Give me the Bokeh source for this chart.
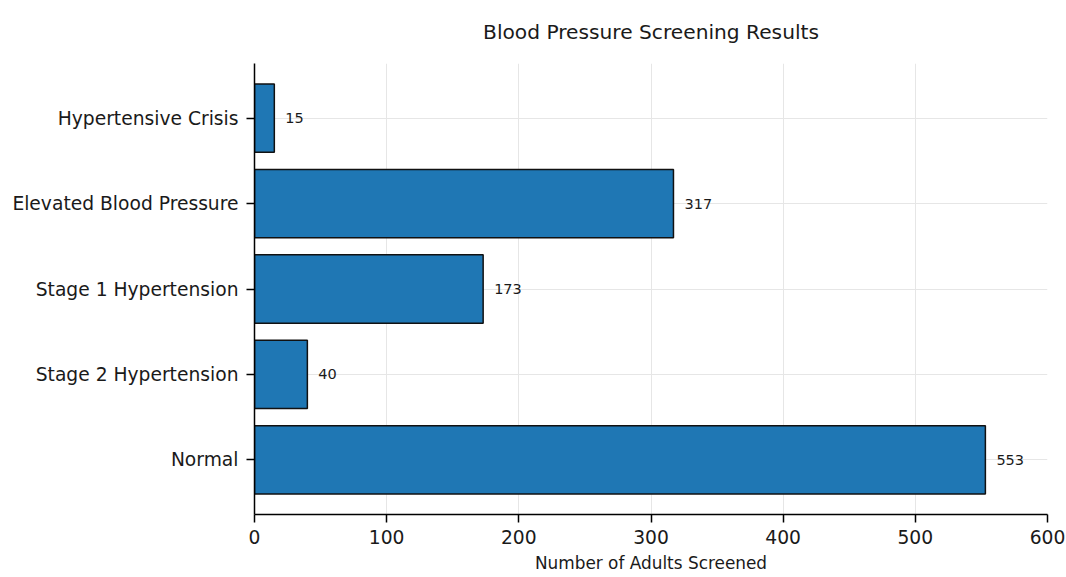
from bokeh.plotting import figure
from bokeh.models import Range1d, FixedTicker, ColumnDataSource
from bokeh.core.properties import value
from bokeh.embed import file_html
from bokeh.resources import INLINE

# Data (bottom to top)
categories = ["Normal", "Stage 2 Hypertension", "Stage 1 Hypertension",
              "Elevated Blood Pressure", "Hypertensive Crisis"]
counts = [553, 40, 173, 317, 15]
x_ticks = [0, 100, 200, 300, 400, 500, 600]
title_text = "Blood Pressure Screening Results"
x_label_text = "Number of Adults Screened"

ypos = list(range(len(categories)))
src = ColumnDataSource(dict(y=ypos, count=counts, label=[str(c) for c in counts]))

FONT = "DejaVu Sans"

p = figure(width=1066, height=577, output_backend="svg", toolbar_location=None,
           x_range=Range1d(x_ticks[0], x_ticks[-1]),
           y_range=Range1d(-0.64, len(categories) - 1 + 0.64),
           min_border_left=254, min_border_right=19, min_border_top=63, min_border_bottom=63)

p.title.text = title_text
p.title.align = "center"
p.title.vertical_align = "top"
p.title.text_font = FONT
p.title.text_font_size = "20.2px"
p.title.text_font_style = "normal"
p.title.text_color = "#1a1a1a"
p.title.standoff = 36

p.outline_line_color = None

p.hbar(y="y", right="count", left=0, height=0.8, source=src,
       fill_color="#1f77b4", line_color="#111111", line_width=1.5)

p.text(x="count", y="y", text="label", source=src, x_offset=11,
       text_baseline="middle", text_align="left", text_font=value(FONT),
       text_font_size="14.5px", text_color="#1a1a1a")

# grid
p.xgrid.ticker = FixedTicker(ticks=x_ticks)
p.ygrid.ticker = FixedTicker(ticks=ypos)
for g in (p.xgrid, p.ygrid):
    g.grid_line_color = "#e6e6e6"
    g.grid_line_width = 1

# axes
p.xaxis.ticker = FixedTicker(ticks=x_ticks)
p.yaxis.ticker = FixedTicker(ticks=ypos)
p.yaxis.major_label_overrides = {i: c for i, c in enumerate(categories)}
p.xaxis.axis_label = x_label_text
for ax in (p.xaxis, p.yaxis):
    ax.axis_line_color = "black"
    ax.axis_line_width = 1.5
    ax.major_tick_line_color = "black"
    ax.major_tick_line_width = 1.5
    ax.major_tick_out = 8
    ax.major_tick_in = 0
    ax.minor_tick_line_color = None
    ax.major_label_text_font = FONT
    ax.major_label_text_font_size = "18.7px"
    ax.major_label_text_color = "#1a1a1a"
    ax.axis_label_text_font = FONT
    ax.axis_label_text_font_size = "16.9px"
    ax.axis_label_text_font_style = "normal"
    ax.axis_label_text_color = "#1a1a1a"
p.xaxis.major_label_standoff = 7
p.yaxis.major_label_standoff = 8
p.xaxis.axis_label_standoff = 6

open("out.html", "w").write(file_html(p, INLINE))
